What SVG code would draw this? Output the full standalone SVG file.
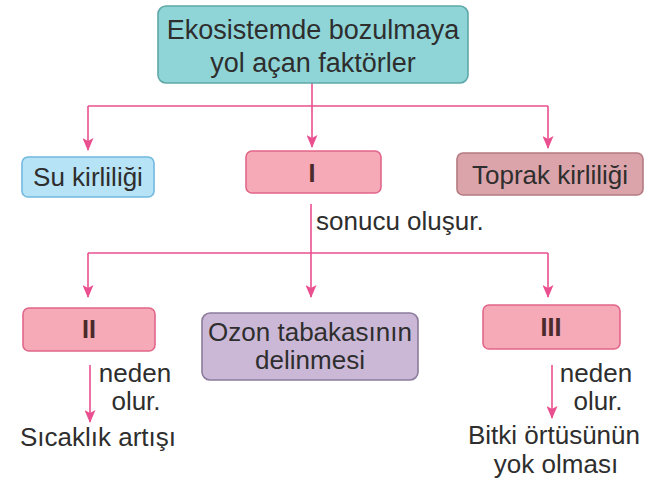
<svg xmlns="http://www.w3.org/2000/svg" width="646" height="487" viewBox="0 0 646 487">
<style>
.t{font-family:"Liberation Sans",Arial,sans-serif;font-size:26px;fill:#2e2e2e;text-anchor:middle}
.r{font-family:"Liberation Sans",Arial,sans-serif;font-size:25px;font-weight:bold;fill:#4a2a2a;text-anchor:middle}
.c{fill:none;stroke:#ea4f8f;stroke-width:1.6}
.pink{fill:#f6a9b7;stroke:#e2668a;stroke-width:1.6}
</style>
<defs>
<marker id="ah" markerUnits="userSpaceOnUse" markerWidth="13" markerHeight="11" viewBox="0 0 13 11" refX="12" refY="5.5" orient="auto">
<path d="M0,0 L13,5.5 L0,11 L3,5.5 z" fill="#ea4f8f"/>
</marker>
</defs>
<rect width="646" height="487" fill="#ffffff"/>
<g id="connectors">
<path class="c" d="M312,83 V106"/>
<path class="c" d="M88,106 H548"/>
<path class="c" d="M88,106 V150" marker-end="url(#ah)"/>
<path class="c" d="M312,106 V147" marker-end="url(#ah)"/>
<path class="c" d="M548,106 V148" marker-end="url(#ah)"/>
<path class="c" d="M311,204 V297" marker-end="url(#ah)"/>
<path class="c" d="M88,253 H548"/>
<path class="c" d="M88,253 V297" marker-end="url(#ah)"/>
<path class="c" d="M548,253 V297" marker-end="url(#ah)"/>
<path class="c" d="M90,365 V422" marker-end="url(#ah)"/>
<path class="c" d="M552,365 V418" marker-end="url(#ah)"/>
</g>
<g id="top">
<rect x="158" y="6" width="310" height="77" rx="8" fill="#8fd5d7" stroke="#5fa8a8" stroke-width="1.6"/>
<text class="t" x="313" y="39" style="font-size:27px">Ekosistemde bozulmaya</text>
<text class="t" x="313" y="72" style="font-size:27px">yol açan faktörler</text>
</g>
<g id="su">
<rect x="22" y="157" width="132" height="40" rx="6" fill="#b6e3f6" stroke="#72b9e0" stroke-width="1.6"/>
<text class="t" x="88" y="186">Su kirliliği</text>
</g>
<g id="n1">
<rect class="pink" x="246" y="151" width="135" height="42" rx="6"/>
<text class="r" x="312" y="182">I</text>
</g>
<g id="toprak">
<rect x="457" y="153" width="186" height="42" rx="6" fill="#dba4aa" stroke="#b47a82" stroke-width="1.6"/>
<text class="t" x="550" y="184">Toprak kirliliği</text>
</g>
<g id="sonucu">
<text class="t" x="316" y="230" style="text-anchor:start">sonucu oluşur.</text>
</g>
<g id="n2">
<rect class="pink" x="23" y="308" width="132" height="43" rx="6"/>
<text class="r" x="89" y="338">II</text>
</g>
<g id="ozon">
<rect x="202" y="313" width="216" height="67" rx="8" fill="#cbb8d7" stroke="#8c7b9c" stroke-width="1.6"/>
<text class="t" x="310" y="341">Ozon tabakasının</text>
<text class="t" x="310" y="369">delinmesi</text>
</g>
<g id="n3">
<rect class="pink" x="483" y="305" width="137" height="44" rx="6"/>
<text class="r" x="551" y="336">III</text>
</g>
<g id="left-cause">
<text class="t" x="135" y="382">neden</text>
<text class="t" x="136" y="410">olur.</text>
<text class="t" x="98" y="446">Sıcaklık artışı</text>
</g>
<g id="right-cause">
<text class="t" x="596" y="382">neden</text>
<text class="t" x="598" y="410">olur.</text>
<text class="t" x="554" y="444">Bitki örtüsünün</text>
<text class="t" x="556" y="473">yok olması</text>
</g>
</svg>
